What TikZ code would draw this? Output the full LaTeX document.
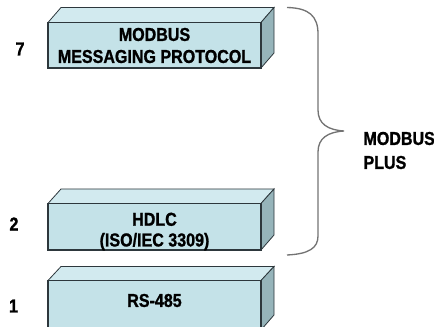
\documentclass[tikz,border=0pt]{standalone}
\usepackage{fontspec}
\setmainfont[FakeStretch=0.86, BoldFeatures={FakeBold=1.2}]{Liberation Sans}

\definecolor{frontblue}{RGB}{196,226,232}
\definecolor{topblue}{RGB}{210,234,239}
\definecolor{sideblue}{RGB}{150,180,186}
\definecolor{edgegray}{RGB}{45,55,60}

\tikzset{every picture/.style={line width=0.75pt}}
\tikzset{
  frontface/.style={draw=edgegray, fill=frontblue, line width=1pt},
  topface/.style={draw=edgegray, fill=topblue, line width=0.6pt},
  sideface/.style={draw=edgegray, fill=sideblue, line width=0.6pt},
  boxtext/.style={inner sep=0.75pt, align=center, font=\fontsize{14}{16.5}\selectfont\bfseries},
  layernum/.style={inner sep=0.75pt, font=\fontsize{14}{16}\selectfont\bfseries},
  bracetext/.style={anchor=west, inner sep=0.75pt, align=left, font=\fontsize{14}{18}\selectfont\bfseries}
}

\begin{document}
\begin{tikzpicture}[x=0.75pt,y=0.75pt,yscale=-1,xscale=1]
\clip (0,0) rectangle (434,327);

%Shape: Box [id:application layer]
\draw [topface] (48,22.5) -- (61,7.5) -- (274,7.5) -- (261,22.5) -- cycle ;
\draw [sideface] (261,22.5) -- (274,7.5) -- (274,53) -- (261,68) -- cycle ;
\draw [frontface] (48,22.5) rectangle (261,68) ;

%Shape: Box [id:data link layer]
\draw [topface] (48,203.5) -- (61,189) -- (274,189) -- (261,203.5) -- cycle ;
\draw [sideface] (261,203.5) -- (274,189) -- (274,235) -- (261,250) -- cycle ;
\draw [frontface] (48,203.5) rectangle (261,250) ;

%Shape: Box [id:physical layer]
\draw [topface] (48,280.5) -- (61,266.5) -- (274,266.5) -- (261,280.5) -- cycle ;
\draw [sideface] (261,280.5) -- (274,266.5) -- (274,315) -- (261,330) -- cycle ;
\draw [frontface] (48,280.5) rectangle (261,335) ;

%Shape: Brace [id:modbus plus]
\draw [draw=black!55, line width=1pt] (287,7.5) .. controls (309,8) and (318,16) .. (318,34) -- (318,110) .. controls (318,124) and (328,130) .. (344,131) .. controls (328,132) and (318,138) .. (318,152) -- (318,236) .. controls (318,248) and (309,254) .. (287,255) ;

% Text Node
\node [boxtext] (msgtext) at (154.5,45.5) {MODBUS\\MESSAGING PROTOCOL};
% Text Node
\node [boxtext] (hdlctext) at (154.5,231.5) {HDLC\\[-1pt](ISO/IEC 3309)};
% Text Node
\node [boxtext] (rstext) at (154.5,300.5) {RS-485};
% Text Node
\node [layernum] (num7) at (20,49) {7};
% Text Node
\node [layernum] (num2) at (14,224) {2};
% Text Node
\node [layernum] (num1) at (13.5,306) {1};
% Text Node
\node [bracetext] (plustext) at (362,150.5) {MODBUS\\PLUS};

\end{tikzpicture}
\end{document}
